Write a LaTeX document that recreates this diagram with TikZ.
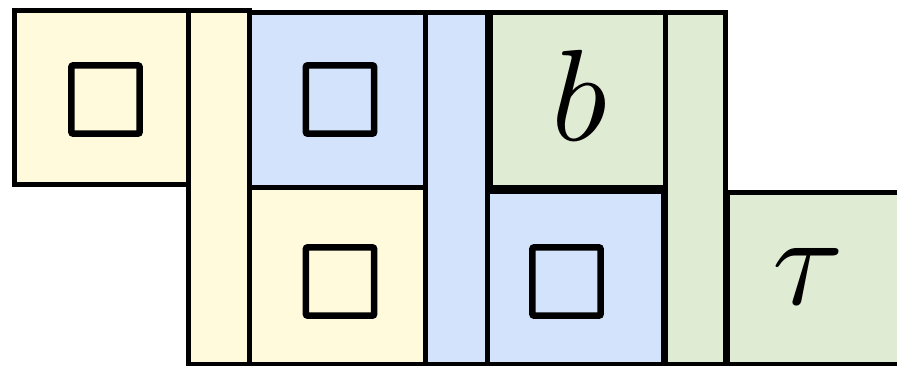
\documentclass[tikz,border=0pt]{standalone}
\definecolor{cyel}{HTML}{FFFADC}
\definecolor{cblu}{HTML}{D4E3FC}
\definecolor{cgrn}{HTML}{E0EBD4}
\tikzset{
  cell/.style={draw=black, line width=5pt},
  hole/.style={draw=black, line width=6.5pt, rounded corners=2pt},
  big/.style={inner sep=0pt, scale=13}
}
\begin{document}
\begin{tikzpicture}[x=1pt,y=-1pt]
\useasboundingbox (0,0) rectangle (897,365);
\clip (0,0) rectangle (897,365);
% first column
\draw[cell, fill=cyel] (14.5,10) rectangle (188.5,184);
\draw[cell, fill=cyel] (188.5,10) rectangle (249.5,364);
% second column
\draw[cell, fill=cblu] (249.5,12.5) rectangle (425.5,187);
\draw[cell, fill=cyel] (249.5,187) rectangle (425.5,364);
\draw[cell, fill=cblu] (425.5,12.5) rectangle (487.5,364);
% third column
\draw[cell, fill=cgrn] (490,12.5) rectangle (665.5,187);
\draw[cell, fill=cblu] (487.5,191) rectangle (663,364);
\draw[cell, fill=cgrn] (665.5,12.5) rectangle (725.5,364);
% last
\draw[cell, fill=cgrn] (727,192) rectangle (905,364);
% inner squares
\draw[hole] (71.3,65.3) rectangle (139.7,133.7);
\draw[hole] (305.8,65.3) rectangle (374.2,133.7);
\draw[hole] (305.8,247.3) rectangle (374.2,315.7);
\draw[hole] (532.3,247.3) rectangle (600.7,315.7);
% labels
\node[big] (b) at (579,95) {$b$};
\node[big] (tau) at (808.5,277) {$\tau$};
\end{tikzpicture}
\end{document}
